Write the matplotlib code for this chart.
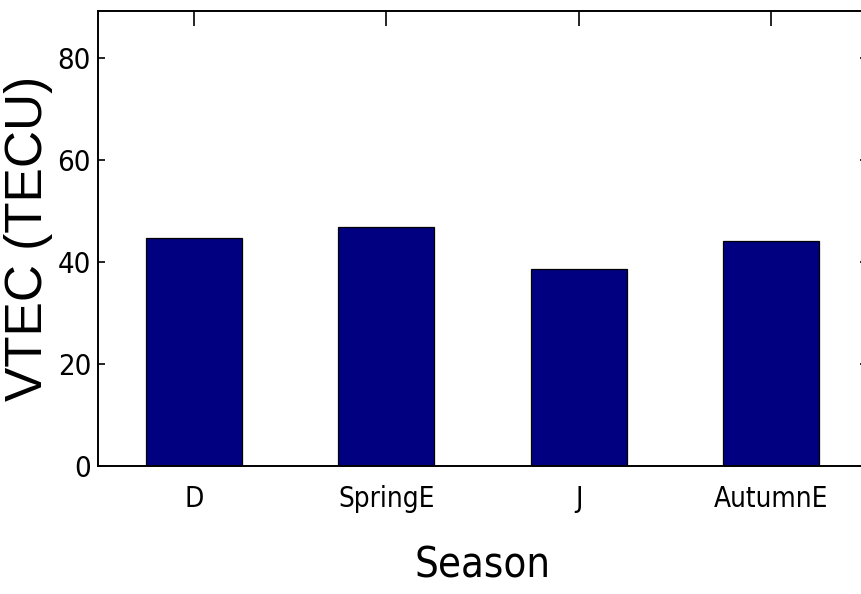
import matplotlib.pyplot as plt

# mean VTEC per season
seasons = ['D', 'SpringE', 'J', 'AutumnE']
vtec = [44.7, 46.9, 38.7, 44.2]
yticks = [0, 20, 40, 60, 80]

fig = plt.figure(figsize=(8.61, 5.94), dpi=100)
ax = fig.add_axes([98 / 861, 128 / 594, 769 / 861, 455 / 594])

positions = list(range(1, len(seasons) + 1))
ax.bar(positions, vtec, width=0.5, color='#000080', edgecolor='black', linewidth=0.9)

ax.set_xlim(0.5, 4.5)
ax.set_ylim(0, 89.3)
ax.set_xticks(positions)
ax.set_xticklabels(seasons, family='DejaVu Sans', fontstretch='condensed', fontsize=20)
ax.set_yticks(yticks)
ax.set_yticklabels([str(v) for v in yticks], family='DejaVu Sans', fontstretch='condensed', fontsize=21)

ax.tick_params(axis='x', direction='in', length=10.5, width=1.2, top=True, bottom=False, pad=14)
ax.tick_params(axis='y', direction='in', length=5, width=1.2, right=True, pad=5)
for side in ax.spines.values():
    side.set_linewidth(1.4)

ax.set_xlabel('Season', family='DejaVu Sans', fontstretch='condensed', fontsize=30, labelpad=22)
ax.set_ylabel('VTEC (TECU)', family='Liberation Sans', fontsize=37, labelpad=3)

plt.savefig('out.png', dpi=100)
